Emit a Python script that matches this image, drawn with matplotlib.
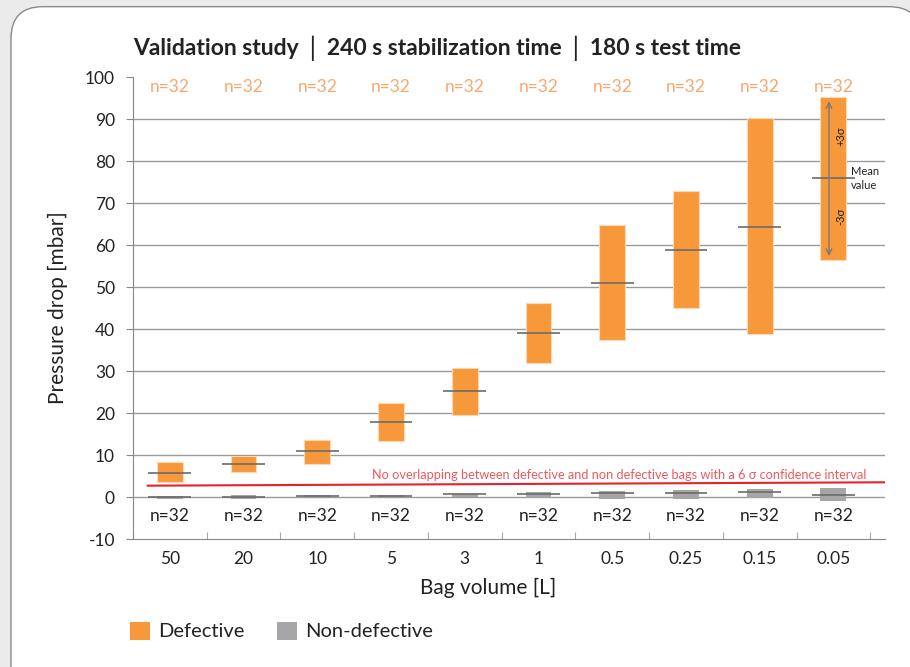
import numpy as np
import matplotlib.pyplot as plt
from matplotlib.patches import FancyBboxPatch, Patch

plt.rcParams["font.family"] = ["Lato", "DejaVu Sans"]
plt.rcParams["axes.unicode_minus"] = False

volumes = ["50", "20", "10", "5", "3", "1", "0.5", "0.25", "0.15", "0.05"]

# defective bags: +3 sigma, -3 sigma, mean [mbar]
def_top  = [8.3, 9.8, 13.6, 22.4, 30.7, 46.1, 64.7, 72.9, 90.2, 95.2]
def_bot  = [3.5, 6.0, 7.9, 13.3, 19.5, 31.9, 37.4, 45.1, 38.9, 56.4]
def_mean = [5.7, 7.9, 11.0, 17.8, 25.2, 39.0, 51.0, 58.7, 64.2, 75.9]

# non-defective bags
ok_top  = [0.24, 0.5, 0.55, 0.5, 0.7, 1.3, 1.5, 1.7, 1.9, 2.2]
ok_bot  = [-0.4, -0.4, 0.1, 0.0, 0.1, -0.2, -0.4, -0.4, -0.15, -0.9]
ok_mean = [-0.1, 0.0, 0.3, 0.2, 0.6, 0.7, 0.95, 0.95, 1.1, 0.55]

n_def = [32] * 10
n_ok  = [32] * 10

limit_x = [-0.3, 9.7]
limit_y = [2.7, 3.5]

ORANGE = "#f7993a"
GREY   = "#a6a6a9"
DARK   = "#222222"

fig = plt.figure(figsize=(9.1, 6.67), dpi=100)
fig.patch.set_facecolor("#ebebeb")
panel = FancyBboxPatch((11 / 910, -0.05), 1.0, 1.04, transform=fig.transFigure,
                       boxstyle="round,pad=0,rounding_size=0.035",
                       facecolor="white", edgecolor="#8a8a8a", linewidth=1.0,
                       mutation_aspect=910 / 667, zorder=-10)
fig.patches.append(panel)

ax = fig.add_axes([133 / 910, 1 - 539 / 667, 752 / 910, 462 / 667])
ax.set_facecolor("none")

x = np.arange(len(volumes))
ax.set_xlim(-0.5, 9.7)
ax.set_ylim(-10, 100)

for g in range(0, 100, 10):
    ax.axhline(g, color="#9a9a9a", lw=1.0, zorder=1)

w = 0.35
ax.bar(x, np.array(def_top) - np.array(def_bot), bottom=def_bot, width=w,
       color=ORANGE, edgecolor="#fcd9b5", linewidth=0.8, zorder=2)
ax.bar(x, np.array(ok_top) - np.array(ok_bot), bottom=ok_bot, width=w,
       color=GREY, edgecolor="none", zorder=2)
ax.hlines(def_mean, x - 0.29, x + 0.29, color="#6b6b6b", lw=1.2, zorder=3)
ax.hlines(ok_mean, x - 0.29, x + 0.29, color="#6b6b6b", lw=1.2, zorder=3)

for xi, n in zip(x, n_def):
    ax.text(xi, 97.6, f"n={n}", ha="center", va="center", fontsize=12.5,
            color="#f7a870", zorder=4)
for xi, n in zip(x, n_ok):
    ax.text(xi, -4.6, f"n={n}", ha="center", va="center", fontsize=12.5,
            color=DARK, zorder=4)

ax.plot(limit_x, limit_y, color="#e8202a", lw=1.5, zorder=4)
ax.text(9.45, 5.3, "No overlapping between defective and non defective bags "
        "with a 6 \u03c3 confidence interval", ha="right", va="center",
        fontsize=9.2, color="#ea5a5f", zorder=4)

# sigma annotation on last bar
i = 9
ax.annotate("", xy=(i - 0.06, def_top[i] - 0.3), xytext=(i - 0.06, def_bot[i] + 0.3),
            arrowprops=dict(arrowstyle="<->", color="#7a7a7a", lw=1.0,
                            mutation_scale=10), zorder=5)
ax.text(i + 0.1, 85.8, "+3\u03c3", rotation=90, ha="center", va="center",
        fontsize=8, color=DARK, zorder=5)
ax.text(i + 0.1, 66.8, "-3\u03c3", rotation=90, ha="center", va="center",
        fontsize=8, color=DARK, zorder=5)
ax.text(i + 0.24, 75.9, "Mean\nvalue", ha="left", va="center",
        fontsize=8, color=DARK, linespacing=1.3, zorder=5)

ax.set_xticks(np.arange(-0.5, 10, 1.0))
ax.set_xticklabels([])
ax.set_xticks(x, minor=True)
ax.set_xticklabels(volumes, minor=True, fontsize=12.5, color=DARK)
ax.tick_params(axis="x", which="minor", length=0, pad=9)
ax.tick_params(axis="x", which="major", length=5, color="#aaaaaa", direction="in")
ax.set_yticks(range(-10, 101, 10))
ax.tick_params(axis="y", length=5, color="#888888", labelsize=12.5,
               labelcolor=DARK, pad=8)

for s in ["top", "right"]:
    ax.spines[s].set_visible(False)
for s in ["left", "bottom"]:
    ax.spines[s].set_color("#888888")

ax.set_ylabel("Pressure drop [mbar]", fontsize=15, color=DARK, labelpad=12)
ax.set_xlabel("Bag volume [L]", fontsize=15, color=DARK)
ax.xaxis.set_label_coords((488 - 133) / 752, -(578 - 539) / 462)

fig.text(133 / 910, 1 - 48 / 667,
         "Validation study \u2502 240 s stabilization time \u2502 180 s test time",
         fontsize=16.5, fontweight="bold", color=DARK, va="center", ha="left")

handles = [Patch(facecolor=ORANGE, edgecolor="none", label="Defective"),
           Patch(facecolor=GREY, edgecolor="none", label="Non-defective")]
fig.legend(handles=handles, loc="center left", bbox_to_anchor=(112 / 910, 1 - 631 / 667),
           ncol=2, frameon=False, fontsize=14.5, handlelength=1.0, handleheight=1.0,
           handletextpad=0.4, columnspacing=1.6, labelcolor=DARK)

fig.savefig("out.png", dpi=100, facecolor=fig.get_facecolor())
